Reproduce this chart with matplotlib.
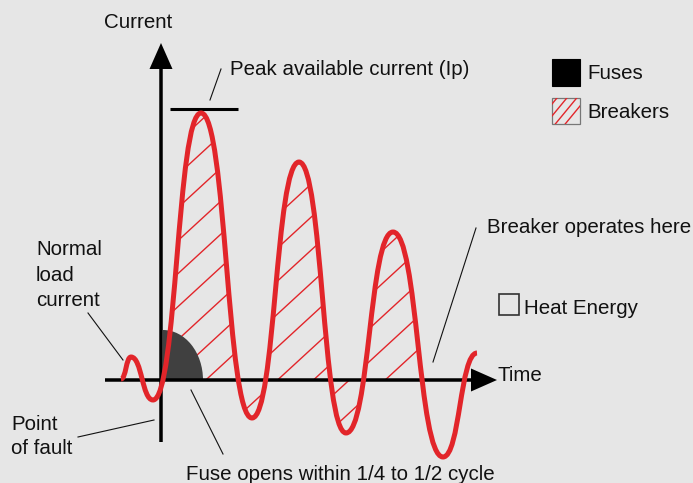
import matplotlib
matplotlib.use("Agg")
import matplotlib.pyplot as plt
from matplotlib.path import Path
from matplotlib.patches import PathPatch, Rectangle, Ellipse, FancyArrow

plt.rcParams['font.family'] = ['Liberation Sans', 'DejaVu Sans']

# waveform turning points, in picture pixels (y grows downward)
wave_x = [121, 131, 153, 201, 252, 299, 346, 393, 443, 477]
wave_y = [379, 357, 400, 113, 418, 162, 433, 232, 457, 353]

axis_y = 380          # time axis
axis_x = 161          # current axis
fault_x = 163         # point of fault (curve crosses zero)
breaker_x = 425       # breaker clears current here
peak_level = 109      # peak available current bar

legend_labels = ["Fuses", "Breakers"]
heat_label = "Heat Energy"

RED = '#e2252a'
BG = '#e6e6e6'
INK = '#111111'
FS = 14.8


def wave_path(xs, ys, k=0.5):
    """Smooth path through the turning points (flat tangent at each one)"""
    verts = [(xs[0], ys[0])]
    codes = [Path.MOVETO]
    for i in range(1, len(xs)):
        dx = xs[i] - xs[i - 1]
        verts += [(xs[i - 1] + k * dx, ys[i - 1]), (xs[i] - k * dx, ys[i]), (xs[i], ys[i])]
        codes += [Path.CURVE4] * 3
    return verts, codes


fig = plt.figure(figsize=(6.93, 4.83), dpi=100)
fig.patch.set_facecolor(BG)
ax = fig.add_axes([0, 0, 1, 1])
ax.set_xlim(0, 693)
ax.set_ylim(483, 0)
ax.axis('off')

verts, codes = wave_path(wave_x, wave_y)

# area between curve and time axis -> clip for the breaker hatch
reg_verts = verts + [(wave_x[-1], axis_y), (wave_x[0], axis_y), (wave_x[0], axis_y)]
reg_codes = codes + [Path.LINETO, Path.LINETO, Path.CLOSEPOLY]
region = PathPatch(Path(reg_verts, reg_codes), facecolor='none', edgecolor='none')
ax.add_patch(region)

slope = 0.92
spacing = 33
b = 188.4 - spacing * 3
while b < 760:
    xs = [fault_x, breaker_x]
    ys = [b, b - slope * (breaker_x - fault_x)]
    ln, = ax.plot(xs, ys, color=RED, lw=1.0, solid_capstyle='butt', zorder=1)
    ln.set_clip_path(region)
    b += spacing

# fuse let-through energy
clip_rect = Rectangle((fault_x, 300), 60, axis_y - 300, transform=ax.transData)
fuse = Ellipse((fault_x, axis_y), 80, 100, facecolor='#404040', edgecolor='none', zorder=1.5)
ax.add_patch(fuse)
fuse.set_clip_path(clip_rect)

# axes with arrow heads
ax.add_patch(FancyArrow(105, axis_y, 497 - 105, 0, width=3.5, head_width=23,
                        head_length=26, length_includes_head=True, color='black', lw=0, zorder=2))
ax.add_patch(FancyArrow(axis_x, 442, 0, 43 - 442, width=3.5, head_width=23,
                        head_length=26, length_includes_head=True, color='black', lw=0, zorder=2))

# peak bar
ax.plot([170, 238], [peak_level, peak_level], color='black', lw=2.2, solid_capstyle='butt')

# the current waveform
ax.add_patch(PathPatch(Path(verts, codes), facecolor='none', edgecolor=RED, lw=3.6,
                       capstyle='butt', joinstyle='round', zorder=3))

# leader lines
leaders = [((210, 100), (221, 69)),
           ((476, 228), (433, 362)),
           ((88, 313), (123, 360)),
           ((78, 437), (154, 420)),
           ((191, 390), (223, 454))]
for (x0, y0), (x1, y1) in leaders:
    ax.plot([x0, x1], [y0, y1], color=INK, lw=0.8)

# labels
def label(x, y, s):
    ax.text(x, y, s, fontsize=FS, color=INK, ha='left', va='baseline')

label(104, 28, "Current")
label(230, 75, "Peak available current (Ip)")
label(497, 381, "Time")
label(487, 233, "Breaker operates here")
label(36, 255, "Normal")
label(36, 281, "load")
label(36, 306, "current")
label(11, 430, "Point")
label(11, 454, "of fault")
label(186, 480, "Fuse opens within 1/4 to 1/2 cycle")

# legend
ax.add_patch(Rectangle((552, 59), 28, 27, facecolor='black', edgecolor='black', lw=0.8))
label(587, 79, legend_labels[0])
box = Rectangle((552, 98), 28, 26, facecolor='none', edgecolor='#777777', lw=0.9)
ax.add_patch(box)
for c in [104, 116, 128, 140]:
    ln, = ax.plot([552, 580], [c, c - 34], color=RED, lw=1.0)
    ln.set_clip_path(box)
label(587, 118, legend_labels[1])

ax.add_patch(Rectangle((499, 294), 20, 21, facecolor='none', edgecolor='#333333', lw=1.2))
label(524, 314, heat_label)

fig.savefig('out.png', dpi=100, facecolor=BG)
